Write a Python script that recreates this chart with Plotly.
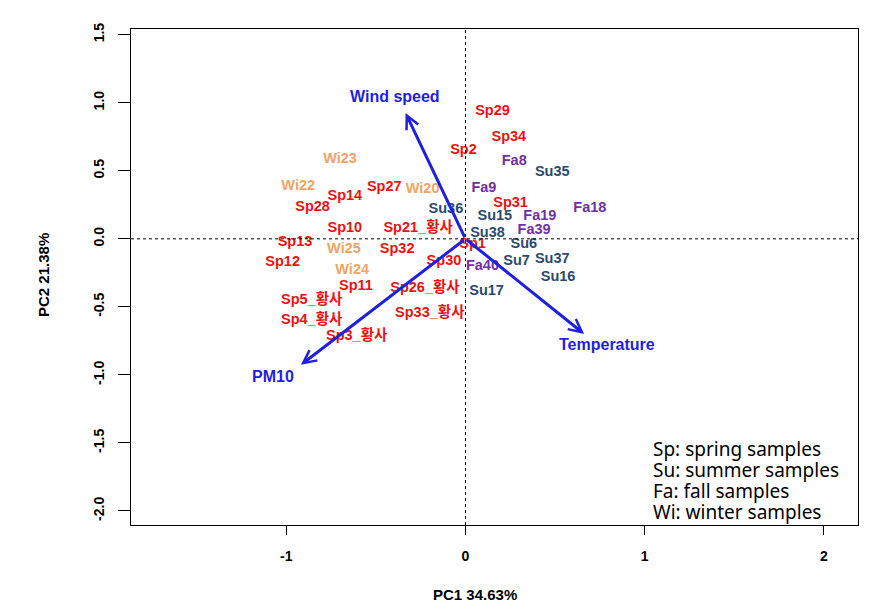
import plotly.graph_objects as go

# ---- sample scores (PC1, PC2) ----
sp_names = ["Sp1", "Sp2", "Sp3_황사", "Sp4_황사", "Sp5_황사", "Sp10", "Sp11", "Sp12", "Sp13", "Sp14",
            "Sp21_황사", "Sp26_황사", "Sp27", "Sp28", "Sp29", "Sp30", "Sp31", "Sp32", "Sp33_황사", "Sp34"]
sp_pc1 = [0.040, -0.011, -0.607, -0.858, -0.858, -0.673, -0.611, -1.020, -0.951, -0.673,
          -0.264, -0.226, -0.453, -0.853, 0.151, -0.120, 0.252, -0.381, -0.199, 0.242]
sp_pc2 = [-0.040, 0.649, -0.718, -0.601, -0.449, 0.079, -0.346, -0.174, -0.027, 0.311,
          0.079, -0.365, 0.380, 0.230, 0.936, -0.169, 0.263, -0.081, -0.546, 0.748]

su_names = ["Su6", "Su7", "Su15", "Su16", "Su17", "Su35", "Su36", "Su37", "Su38"]
su_pc1 = [0.326, 0.285, 0.164, 0.517, 0.118, 0.484, -0.109, 0.484, 0.123]
su_pc2 = [-0.042, -0.167, 0.164, -0.283, -0.388, 0.490, 0.213, -0.154, 0.037]

fa_names = ["Fa8", "Fa9", "Fa18", "Fa19", "Fa39", "Fa40"]
fa_pc1 = [0.272, 0.103, 0.694, 0.415, 0.383, 0.095]
fa_pc2 = [0.568, 0.368, 0.221, 0.164, 0.059, -0.204]

wi_names = ["Wi20", "Wi22", "Wi23", "Wi24", "Wi25"]
wi_pc1 = [-0.239, -0.933, -0.700, -0.632, -0.678]
wi_pc2 = [0.365, 0.385, 0.581, -0.235, -0.081]

# ---- variable loadings (arrows) ----
var_names = ["Wind speed", "Temperature", "PM10"]
var_pc1 = [-0.334, 0.662, -0.918]
var_pc2 = [0.924, -0.699, -0.926]
var_label_pc1 = [-0.394, 0.787, -1.072]
var_label_pc2 = [1.044, -0.779, -1.012]

# ---- axes ----
x_ticks = [-1, 0, 1, 2]
y_ticks = [-2.0, -1.5, -1.0, -0.5, 0.0, 0.5, 1.0, 1.5]
y_tick_text = ["-2.0", "-1.5", "-1.0", "-0.5", "0.0", "0.5", "1.0", "1.5"]
x_range = [-1.866, 2.19]
y_range = [-2.103, 1.542]

legend_lines = ["Sp: spring samples", "Su: summer samples", "Fa: fall samples", "Wi: winter samples"]

FONT = "Liberation Sans, Arial, Noto Sans CJK KR, sans-serif"
groups = [
    (sp_names, sp_pc1, sp_pc2, "#EE1111"),
    (su_names, su_pc1, su_pc2, "#2B4A6E"),
    (fa_names, fa_pc1, fa_pc2, "#7030A0"),
    (wi_names, wi_pc1, wi_pc2, "#F2A464"),
]

fig = go.Figure()
for names, xs, ys, col in groups:
    fig.add_trace(go.Scatter(
        x=xs, y=ys, mode="text", text=names, textposition="middle center",
        textfont=dict(family=FONT, size=14.5, color=col, weight="bold"),
        showlegend=False, hoverinfo="skip"))

shapes = [
    dict(type="line", xref="x", yref="paper", x0=0, x1=0, y0=0, y1=1,
         line=dict(color="black", width=1, dash="dot")),
    dict(type="line", xref="paper", yref="y", x0=0, x1=1, y0=0, y1=0,
         line=dict(color="black", width=1, dash="dot")),
]

annotations = []
for name, vx, vy, lx, ly in zip(var_names, var_pc1, var_pc2, var_label_pc1, var_label_pc2):
    annotations.append(dict(
        x=vx, y=vy, ax=0, ay=0, xref="x", yref="y", axref="x", ayref="y",
        text="", showarrow=True, arrowhead=5, arrowsize=0.85, arrowwidth=3,
        arrowcolor="#1F1FE0", standoff=0, startstandoff=0))
    annotations.append(dict(
        x=lx, y=ly, xref="x", yref="y", text=name, showarrow=False,
        font=dict(family=FONT, size=16, color="#1F1FE0", weight="bold"),
        xanchor="center", yanchor="middle"))

# page offset (browser body margin)
OFF = 8
for i, line in enumerate(legend_lines):
    annotations.append(dict(
        x=651 - OFF, y=449 + 21 * i - OFF, xref="paper", yref="paper", text=line, showarrow=False,
        font=dict(family="Noto Sans, sans-serif", size=19, color="black"),
        xanchor="left", yanchor="middle"))

# axis titles
annotations.append(dict(x=474.5 - OFF, y=594 - OFF, xref="paper", yref="paper", text="PC1 34.63%",
                        showarrow=False, xanchor="center", yanchor="middle",
                        font=dict(family=FONT, size=15, color="black", weight="bold")))
annotations.append(dict(x=43 - OFF, y=275 - OFF, xref="paper", yref="paper", text="PC2 21.38%",
                        showarrow=False, xanchor="center", yanchor="middle", textangle=-90,
                        font=dict(family=FONT, size=15, color="black", weight="bold")))

W, H = 889 - OFF, 615 - OFF
L, R, T, B = 131 - OFF, 31, 29 - OFF, 90
for a in annotations:
    if a.get("xref") == "paper":
        a["x"] = (a["x"] - L) / (W - L - R)
        a["y"] = 1 - (a["y"] - T) / (H - T - B)

fig.update_layout(
    width=W, height=H, margin=dict(l=L, r=R, t=T, b=B, pad=0),
    paper_bgcolor="white", plot_bgcolor="white",
    shapes=shapes, annotations=annotations,
    xaxis=dict(range=x_range, tickvals=x_ticks, ticktext=[str(v) for v in x_ticks],
               showgrid=False, zeroline=False, showline=True, mirror=True,
               linecolor="black", linewidth=1, ticks="outside", ticklen=9,
               tickcolor="black", ticklabelstandoff=9,
               tickfont=dict(family=FONT, size=14, color="black", weight="bold")),
    yaxis=dict(range=y_range, tickvals=y_ticks, ticktext=y_tick_text,
               showgrid=False, zeroline=False, showline=True, mirror=True,
               linecolor="black", linewidth=1, ticks="outside", ticklen=12,
               tickcolor="black", tickangle=-90, ticklabelstandoff=8,
               tickfont=dict(family=FONT, size=14, color="black", weight="bold")),
)

fig.write_html("out.html")
